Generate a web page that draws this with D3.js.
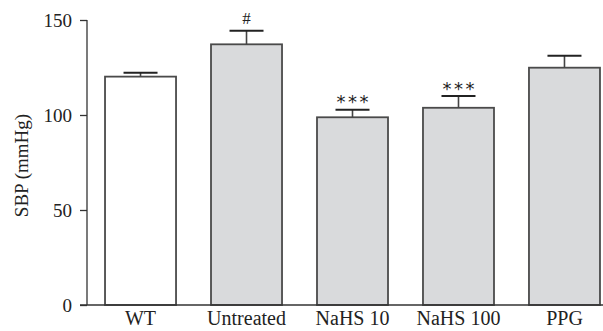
<!DOCTYPE html>
<html><head><meta charset="utf-8">
<script src="https://cdn.jsdelivr.net/npm/d3@7"></script>
<style>
html,body{margin:0;padding:0;background:#fff;}
svg{display:block;}
text{font-family:"Liberation Serif","Times New Roman",serif;fill:#222;}
</style></head>
<body>
<svg id="chart" width="603" height="331"></svg>
<script>
const categories = ["WT", "Untreated", "NaHS 10", "NaHS 100", "PPG"];
const values = [120.2, 137.2, 98.8, 103.8, 124.9];
const errors = [2.0, 7.2, 4.0, 6.2, 6.3];
const marks = ["", "#", "***", "***", ""];
const fills = ["#ffffff", "#d9dadc", "#d9dadc", "#d9dadc", "#d9dadc"];
const yTicks = [0, 50, 100, 150];

const svg = d3.select("#chart");
const x0 = 87, y0 = 305;
const y = d3.scaleLinear().domain([0, 150]).range([y0, 20]);
const x = d3.scaleBand().domain(categories).range([x0, 618]).paddingInner(0.33).paddingOuter(0.17);

const g = svg.append("g");

// bars
g.selectAll("rect.bar").data(categories).join("rect")
  .attr("class", "bar")
  .attr("x", d => x(d))
  .attr("y", (d, i) => y(values[i]))
  .attr("width", x.bandwidth())
  .attr("height", (d, i) => y0 - y(values[i]))
  .attr("fill", (d, i) => fills[i])
  .attr("stroke", "#4a4a4a")
  .attr("stroke-width", 1.8);

// error bars
const capW = 34;
categories.forEach((c, i) => {
  const cx = x(c) + x.bandwidth() / 2;
  const top = y(values[i] + errors[i]);
  g.append("line").attr("x1", cx).attr("x2", cx).attr("y1", y(values[i])).attr("y2", top)
    .attr("stroke", "#444").attr("stroke-width", 1.6);
  g.append("line").attr("x1", cx - capW / 2).attr("x2", cx + capW / 2).attr("y1", top).attr("y2", top)
    .attr("stroke", "#222").attr("stroke-width", 2);
  if (marks[i] === "#") {
    g.append("text").attr("x", cx).attr("y", top - 7).attr("text-anchor", "middle")
      .style("font-size", "17px").text("#");
  } else if (marks[i]) {
    [-11.5, 0, 11.5].forEach(dx => {
      g.append("text").attr("x", cx + dx).attr("y", top - 1.5).attr("text-anchor", "middle")
        .style("font-family", "'DejaVu Sans',sans-serif").style("font-size", "18px")
        .attr("fill", "#333").text("*");
    });
  }
});

// y axis
const yAxis = d3.axisLeft(y).tickValues(yTicks).tickSize(7).tickPadding(8);
const ya = svg.append("g").attr("transform", `translate(${x0},0)`).call(yAxis);
ya.select(".domain").remove();
ya.selectAll(".tick line").attr("stroke", "#333").attr("stroke-width", 1.3);
ya.selectAll(".tick text").style("font-size", "19px").style("font-family", "'Liberation Serif',serif").attr("fill", "#222");
svg.append("line").attr("x1", x0).attr("x2", x0).attr("y1", y(150)).attr("y2", y0)
  .attr("stroke", "#333").attr("stroke-width", 1.3);

// x axis
svg.append("line").attr("x1", x0 - 7).attr("x2", 603).attr("y1", y0).attr("y2", y0)
  .attr("stroke", "#333").attr("stroke-width", 1.5);
const xa = svg.append("g").attr("transform", `translate(0,${y0})`)
  .call(d3.axisBottom(x).tickSize(0).tickPadding(6));
xa.select(".domain").remove();
xa.selectAll(".tick text").style("font-size", "20px").style("font-family", "'Liberation Serif',serif").attr("fill", "#222")
  .attr("dy", "0.71em");

// y label
svg.append("text").attr("transform", `translate(28,${(y(150)+y0)/2 + 3}) rotate(-90)`)
  .attr("text-anchor", "middle").style("font-size", "19px").text("SBP (mmHg)");
</script>
</body></html>
